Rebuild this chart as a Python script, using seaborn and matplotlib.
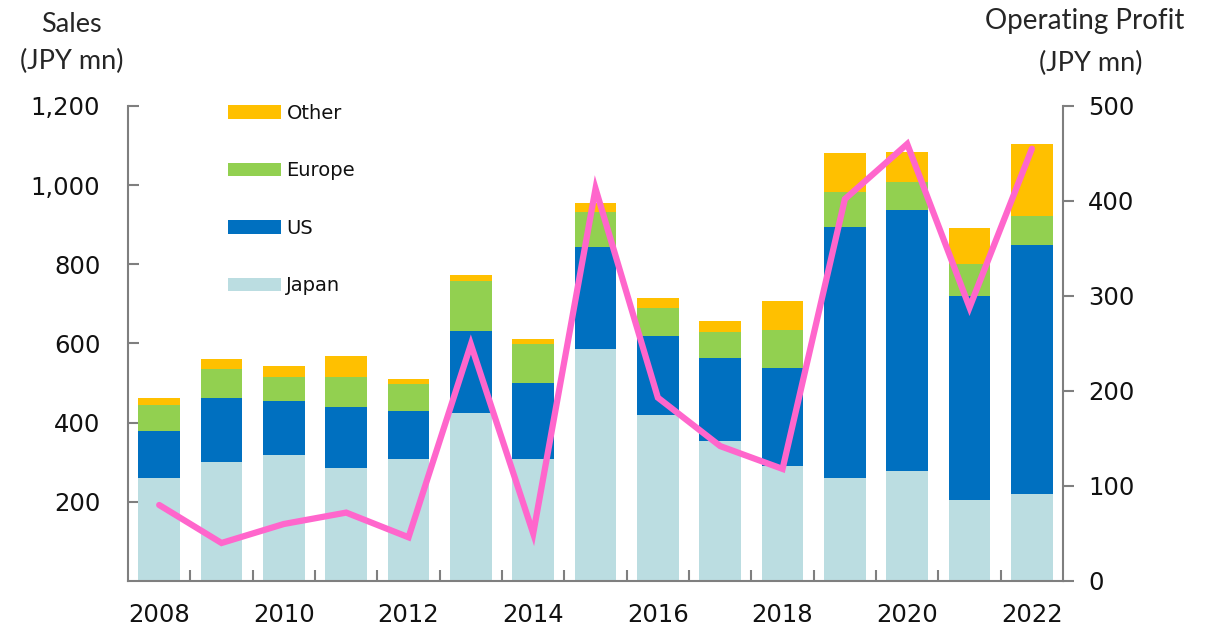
import numpy as np
import pandas as pd
import matplotlib
matplotlib.use("Agg")
import matplotlib.pyplot as plt
import seaborn as sns
from matplotlib.patches import Patch

# Sales by region (JPY mn) and operating profit (JPY mn), fiscal 2008-2022
years = [str(y) for y in range(2008, 2023)]
japan = [260, 300, 318, 285, 308, 424, 308, 586, 419, 354, 290, 260, 278, 205, 220]
us = [119, 162, 137, 155, 122, 208, 192, 258, 200, 209, 248, 634, 659, 515, 629]
europe = [66, 73, 60, 75, 68, 126, 99, 88, 71, 66, 96, 89, 71, 81, 73]
other = [17, 26, 28, 53, 12, 15, 12, 23, 25, 28, 73, 98, 76, 91, 182]
op_profit = [80, 40, 60, 72, 46, 249, 50, 413, 193, 142, 118, 402, 460, 288, 455]

sales_ticks = [200, 400, 600, 800, 1000, 1200]
profit_ticks = [0, 100, 200, 300, 400, 500]
year_labels = years[::2]

colors = {"Japan": "#BBDDE1", "US": "#0070C0", "Europe": "#92D050", "Other": "#FFC000"}
line_color = "#FF66CC"
spine_color = "#7F7F7F"

sns.set_style("white")
plt.rcParams["font.family"] = ["DejaVu Sans"]

df = pd.DataFrame({"year": years, "Japan": japan, "US": us, "Europe": europe, "Other": other})
# cumulative heights so each layer can be drawn as a full bar from zero
df["cum_Japan"] = df["Japan"]
df["cum_US"] = df["cum_Japan"] + df["US"]
df["cum_Europe"] = df["cum_US"] + df["Europe"]
df["cum_Other"] = df["cum_Europe"] + df["Other"]

fig = plt.figure(figsize=(12.17, 6.32), dpi=100)
ax = fig.add_axes([0.1052, 0.0807, 0.7683, 0.7516])

for region in ["Other", "Europe", "US", "Japan"]:
    sns.barplot(data=df, x="year", y="cum_" + region, order=years, color=colors[region],
                saturation=1, width=0.67, linewidth=0, ax=ax)

ax.set_xlim(-0.5, len(years) - 0.5)
ax.set_ylim(0, 1200)
ax.set_xlabel("")
ax.set_ylabel("")

ax.set_yticks(sales_ticks)
ax.set_yticklabels([f"{v:,}" for v in sales_ticks])
ax.tick_params(axis="y", direction="in", length=8, width=1.5, color=spine_color,
               labelsize=17.5, pad=20, left=True, labelcolor="#111111")

ax.set_xticks(range(0, len(years), 2))
ax.set_xticklabels(year_labels)
ax.set_xticks(np.arange(0.5, len(years) - 1), minor=True)
ax.tick_params(axis="x", which="major", length=0, labelsize=17.5, pad=16, labelcolor="#111111")
ax.tick_params(axis="x", which="minor", direction="in", length=8, width=1.5,
               color=spine_color, bottom=True)

for side in ["top", "right"]:
    ax.spines[side].set_visible(False)
for side in ["left", "bottom"]:
    ax.spines[side].set_color(spine_color)
    ax.spines[side].set_linewidth(1.5)

ax2 = ax.twinx()
sns.lineplot(x=np.arange(len(years)), y=op_profit, color=line_color, linewidth=4.5,
             ax=ax2, solid_joinstyle="miter")
ax2.set_xlim(-0.5, len(years) - 0.5)
ax2.set_ylim(0, 500)
ax2.set_yticks(profit_ticks)
ax2.tick_params(axis="y", direction="out", length=8, width=1.5, color=spine_color,
                labelsize=17.5, pad=10, right=True, labelcolor="#111111")
for side in ["top", "left", "bottom"]:
    ax2.spines[side].set_visible(False)
ax2.spines["right"].set_color(spine_color)
ax2.spines["right"].set_linewidth(1.5)
ax2.set_ylabel("")

handles = [Patch(facecolor=colors[r], edgecolor="none", label=r)
           for r in ["Other", "Europe", "US", "Japan"]]
ax2.legend(handles=handles, loc="upper left", bbox_to_anchor=(0.107, 1.005),
           frameon=False, fontsize=14, handlelength=2.7, handleheight=0.7,
           handletextpad=0.3, labelspacing=1.98, borderpad=0, borderaxespad=0,
           labelcolor="#111111")

title_font = ["Lato", "DejaVu Sans"]
fig.text(0.059, 0.962, "Sales", ha="center", va="center", fontsize=19.5, family=title_font)
fig.text(0.059, 0.903, "(JPY mn)", ha="center", va="center", fontsize=19.5, family=title_font)
fig.text(0.891, 0.966, "Operating Profit", ha="center", va="center", fontsize=20, family=title_font)
fig.text(0.896, 0.899, "(JPY mn)", ha="center", va="center", fontsize=19.5, family=title_font)

fig.savefig("out.png", dpi=100)
